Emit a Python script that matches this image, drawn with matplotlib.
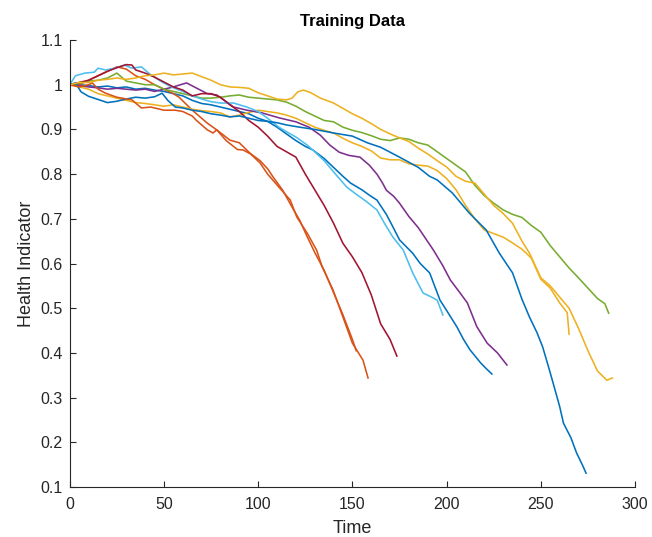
import matplotlib
matplotlib.use("Agg")
import matplotlib.pyplot as plt

# health indicator traces for each training unit (time, value)
t1 = [0, 5, 10, 15, 20, 25, 30, 35, 40, 45, 50, 55, 60, 65, 70, 75, 80, 85, 90, 95, 100, 105, 110, 115, 120,
      125, 129, 135, 140, 145, 149, 155, 160, 163, 168, 171.5, 175, 182, 186, 191, 196.5, 200, 205.5, 209, 212.4,
      218, 221, 224]
h1 = [1.0, 1.0, 0.998, 0.995, 0.997, 0.993, 0.995, 0.99, 0.992, 0.988, 0.985, 0.98, 0.975, 0.965, 0.958, 0.955,
      0.95, 0.945, 0.94, 0.935, 0.925, 0.918, 0.905, 0.89, 0.875, 0.862, 0.854, 0.835, 0.815, 0.795, 0.78, 0.765,
      0.75, 0.742, 0.71, 0.682, 0.653, 0.623, 0.6, 0.579, 0.518, 0.495, 0.458, 0.43, 0.407, 0.378, 0.365, 0.353]

t2 = [0, 5, 10, 15, 20, 25, 30, 35, 40, 45, 50, 55, 58, 65, 70, 73, 78, 83, 89, 92, 96, 101, 105, 111, 117,
      120.5, 126, 131, 134, 139.7, 145, 150, 155.6, 158.3]
h2 = [1.0, 1.0, 1.01, 1.02, 1.03, 1.04, 1.035, 1.02, 1.012, 1.0, 0.99, 0.98, 0.972, 0.943, 0.925, 0.914, 0.899,
      0.875, 0.855, 0.854, 0.845, 0.825, 0.8, 0.771, 0.742, 0.704, 0.668, 0.63, 0.592, 0.541, 0.48, 0.422, 0.384,
      0.344]

t3 = [0, 5, 10, 15, 20, 25, 30, 35, 40, 45, 50, 55, 60, 65, 70, 75, 80, 85, 90, 95, 100, 105, 110, 115, 120,
      125, 130, 135, 140, 145, 150, 155, 160, 165, 170, 175, 180, 185, 190, 195, 200, 205, 210, 215, 220, 225,
      230, 235, 240, 245, 250, 255, 260, 264, 265]
h3 = [1.0, 0.995, 0.99, 0.98, 0.975, 0.97, 0.965, 0.96, 0.958, 0.955, 0.952, 0.955, 0.95, 0.945, 0.942, 0.94,
      0.937, 0.928, 0.932, 0.938, 0.943, 0.94, 0.937, 0.932, 0.925, 0.915, 0.905, 0.898, 0.892, 0.88, 0.87, 0.862,
      0.852, 0.836, 0.832, 0.832, 0.823, 0.82, 0.818, 0.808, 0.79, 0.765, 0.73, 0.7, 0.675, 0.667, 0.659, 0.646,
      0.632, 0.612, 0.565, 0.545, 0.512, 0.49, 0.442]

t4 = [0, 5, 10, 15, 20, 25, 30, 35, 40, 45, 50, 55, 58, 62, 67, 73, 78, 82, 87, 94, 102, 111, 120, 127, 133,
      138, 143, 148, 154, 159, 163, 166, 168, 172, 175, 180, 185, 189, 193, 198, 202, 207, 211, 216, 221.5, 227,
      232]
h4 = [1.0, 0.998, 0.995, 0.993, 0.99, 0.992, 0.99, 0.988, 0.99, 0.985, 0.99, 0.995, 0.999, 1.004, 0.993, 0.98,
      0.977, 0.965, 0.95, 0.943, 0.937, 0.926, 0.917, 0.905, 0.887, 0.865, 0.849, 0.842, 0.838, 0.82, 0.8, 0.78,
      0.764, 0.75, 0.735, 0.705, 0.68, 0.655, 0.63, 0.595, 0.563, 0.535, 0.512, 0.459, 0.422, 0.4, 0.373]

t5 = [0, 5, 10, 15, 20, 25, 30, 35, 40, 45, 50, 55, 60, 65, 70, 75, 80, 85, 90, 95, 100, 105, 110, 115, 120,
      125, 130, 135, 140, 145, 150, 155, 160, 165, 170, 175, 180, 185, 190, 195, 200, 205, 210, 215, 220, 225,
      230, 235, 240, 245, 250, 255, 260, 265, 270, 275, 280, 284, 286]
h5 = [1.0, 1.003, 1.008, 1.01, 1.015, 1.026, 1.008, 1.004, 1.0, 1.0, 0.99, 0.985, 0.98, 0.975, 0.97, 0.97, 0.972,
      0.975, 0.977, 0.972, 0.97, 0.968, 0.966, 0.961, 0.952, 0.94, 0.93, 0.92, 0.917, 0.905, 0.898, 0.893, 0.886,
      0.878, 0.875, 0.881, 0.878, 0.87, 0.865, 0.85, 0.835, 0.82, 0.805, 0.775, 0.752, 0.735, 0.72, 0.71, 0.703,
      0.685, 0.67, 0.64, 0.615, 0.59, 0.568, 0.545, 0.522, 0.51, 0.489]

t6 = [0, 3, 8, 13, 15, 19, 24, 29, 33, 38, 43, 49, 54, 60, 65, 70, 75, 80, 87, 94, 100, 105, 111, 115, 120, 126,
      130, 135, 140, 147, 152, 157, 163, 167, 171.5, 177, 182, 187.5, 192, 195, 198]
h6 = [1.0, 1.02, 1.026, 1.028, 1.037, 1.033, 1.037, 1.044, 1.037, 1.04, 1.022, 1.006, 0.995, 0.985, 0.975, 0.968,
      0.962, 0.959, 0.959, 0.95, 0.94, 0.925, 0.905, 0.895, 0.883, 0.865, 0.85, 0.83, 0.805, 0.771, 0.755, 0.74,
      0.72, 0.69, 0.659, 0.63, 0.579, 0.534, 0.525, 0.518, 0.485]

t7 = [0, 5, 10, 15, 20, 25, 30, 33, 35, 40, 45, 50, 55, 60, 65, 70, 75, 80, 85, 90, 95, 100, 105, 110, 115, 120,
      125, 130, 135, 140, 145, 150, 155, 160, 165, 170, 173.6]
h7 = [1.0, 1.005, 1.01, 1.02, 1.03, 1.038, 1.045, 1.044, 1.033, 1.026, 1.017, 1.006, 0.995, 0.988, 0.975, 0.98,
      0.98, 0.972, 0.955, 0.94, 0.92, 0.905, 0.885, 0.862, 0.85, 0.838, 0.8, 0.765, 0.73, 0.69, 0.645, 0.615,
      0.58, 0.53, 0.465, 0.43, 0.393]

t8 = [0, 3, 6, 10, 15, 20, 25, 30, 35, 40, 45, 49, 52, 56, 60, 65, 70, 75, 80, 85, 90, 95, 100, 105, 110, 115,
      122, 130, 140, 150, 158, 165, 175, 185, 191, 195, 203, 212, 221, 228, 235, 240, 244, 248, 251, 254, 256.5,
      260, 262, 266, 269, 272, 274]
h8 = [1.0, 1.004, 0.984, 0.974, 0.967, 0.96, 0.963, 0.968, 0.972, 0.97, 0.973, 0.981, 0.965, 0.95, 0.948, 0.943,
      0.94, 0.935, 0.932, 0.928, 0.93, 0.925, 0.92, 0.918, 0.915, 0.91, 0.905, 0.9, 0.892, 0.885, 0.87, 0.86,
      0.838, 0.815, 0.795, 0.787, 0.758, 0.713, 0.675, 0.623, 0.579, 0.52, 0.48, 0.445, 0.413, 0.37, 0.333, 0.28,
      0.243, 0.21, 0.176, 0.15, 0.131]

t9 = [0, 5, 10, 12, 15, 19, 25, 33, 38, 43, 50, 56, 60, 65, 67, 73, 76, 78, 85, 90, 95.6, 101, 105, 108, 113,
      118, 122, 126, 130, 135, 140, 145, 150, 152]
h9 = [1.0, 0.995, 1.0, 1.004, 0.99, 0.981, 0.972, 0.966, 0.948, 0.95, 0.943, 0.943, 0.94, 0.93, 0.921, 0.899,
      0.892, 0.899, 0.876, 0.87, 0.847, 0.83, 0.812, 0.793, 0.764, 0.726, 0.697, 0.66, 0.625, 0.585, 0.535, 0.485,
      0.43, 0.405]

t10 = [0, 5, 10, 15, 20, 25, 30, 35, 40, 45, 50, 55, 60, 65, 70, 75, 80, 85, 90, 95, 100, 105, 110, 115, 118,
       121, 124, 128, 133, 140, 145, 150, 155, 160, 165, 170, 175, 180, 185, 190, 195, 200, 205, 210, 215, 220,
       225, 230, 235, 240, 244, 250, 255, 260, 265, 270, 275, 280, 285, 288]
h10 = [1.0, 1.005, 1.005, 1.01, 1.012, 1.015, 1.012, 1.015, 1.02, 1.022, 1.026, 1.022, 1.024, 1.026, 1.018, 1.01,
       1.0, 0.995, 0.994, 0.992, 0.982, 0.975, 0.968, 0.966, 0.97, 0.984, 0.988, 0.982, 0.97, 0.959, 0.947, 0.935,
       0.925, 0.913, 0.9, 0.89, 0.881, 0.873, 0.858, 0.845, 0.83, 0.816, 0.795, 0.784, 0.78, 0.755, 0.73, 0.712,
       0.69, 0.65, 0.623, 0.568, 0.55, 0.525, 0.5, 0.455, 0.405, 0.36, 0.339, 0.344]

# default MATLAB line colour order
colors = ["#0072BD", "#D95319", "#EDB120", "#7E2F8E", "#77AC30", "#4DBEEE", "#A2142F"]

times = [t1, t2, t3, t4, t5, t6, t7, t8, t9, t10]
values = [h1, h2, h3, h4, h5, h6, h7, h8, h9, h10]

plt.rcParams['font.family'] = ['Liberation Sans', 'DejaVu Sans']

fig = plt.figure(figsize=(6.52, 5.37), dpi=100)
ax = fig.add_axes([0.107, 0.093, 0.867, 0.8325])

for i, (t, h) in enumerate(zip(times, values)):
    ax.plot(t, h, color=colors[i % len(colors)], lw=1.15)

ax.set_xlim(0, 300)
ax.set_ylim(0.1, 1.1)
ax.set_xticks(range(0, 301, 50))
yt = [0.1, 0.2, 0.3, 0.4, 0.5, 0.6, 0.7, 0.8, 0.9, 1.0, 1.1]
ax.set_yticks(yt)
ax.set_yticklabels(["%g" % v for v in yt])

for s in ["top", "right"]:
    ax.spines[s].set_visible(False)
for s in ["left", "bottom"]:
    ax.spines[s].set_color("#262626")
    ax.spines[s].set_linewidth(0.8)
ax.tick_params(direction="in", length=4, width=0.8, colors="#262626", labelsize=11.5)
ax.tick_params(axis="x", pad=7)
ax.tick_params(axis="y", pad=5)

ax.set_xlabel("Time", fontsize=13, color="#262626", labelpad=6)
ax.set_ylabel("Health Indicator", fontsize=13, color="#262626", labelpad=4)
ax.set_title("Training Data", fontsize=12, fontweight="bold", color="#000000", pad=10)

fig.savefig("out.png", dpi=100)
